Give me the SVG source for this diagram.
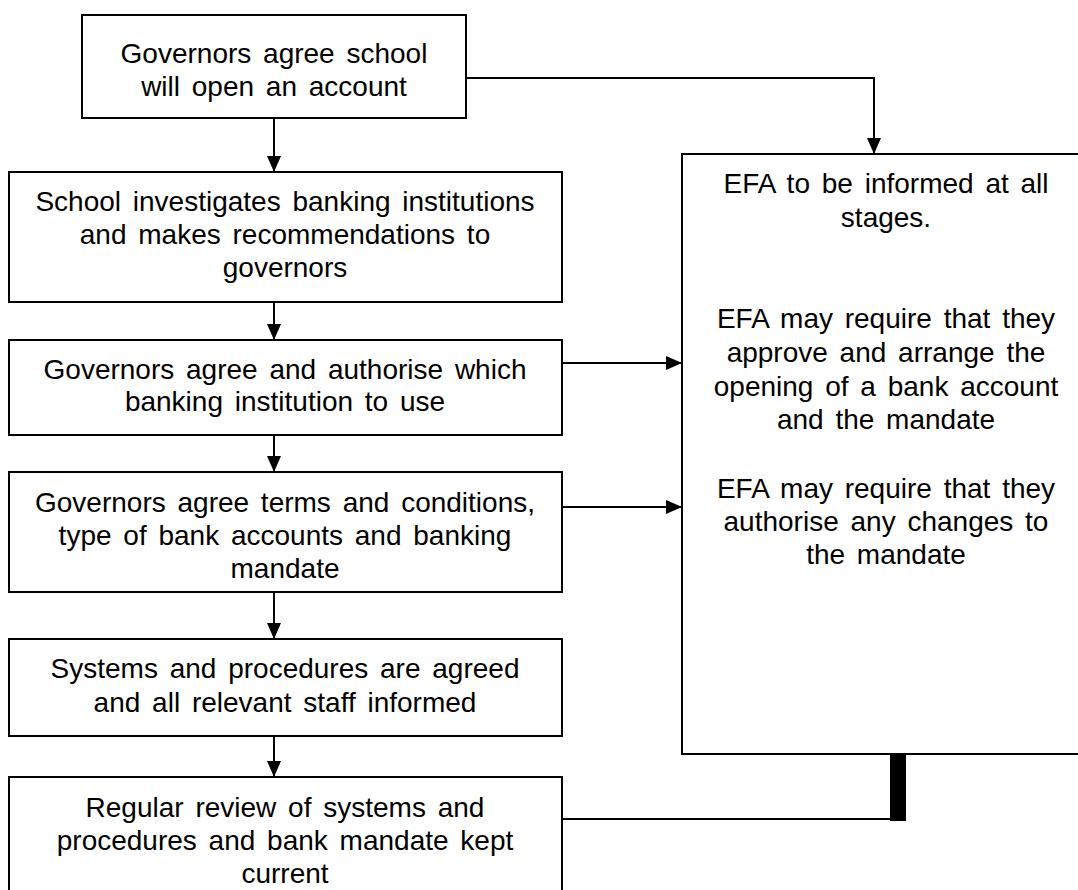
<svg xmlns="http://www.w3.org/2000/svg" width="1078" height="890" viewBox="0 0 1078 890">
<style>
.box{fill:#fff;stroke:#000;stroke-width:2}
.t{font-family:"Liberation Sans",Arial,sans-serif;font-size:28px;word-spacing:4px;fill:#000;text-anchor:middle}
.c{fill:none;stroke:#000;stroke-width:2}
</style>
<defs>
<marker id="ah" markerUnits="userSpaceOnUse" markerWidth="16" markerHeight="14" refX="16" refY="7" orient="auto">
<path d="M0,0 L16,7 L0,14 Z" fill="#000"/>
</marker>
</defs>
<rect width="1078" height="890" fill="#fff"/>
<g id="n1"><rect class="box" x="82" y="15" width="384" height="103"/>
<text class="t" x="274" y="63">Governors agree school</text>
<text class="t" x="274" y="96">will open an account</text></g>
<g id="n2"><rect class="box" x="9" y="172" width="553" height="130"/>
<text class="t" x="285" y="211">School investigates banking institutions</text>
<text class="t" x="285" y="244">and makes recommendations to</text>
<text class="t" x="285" y="277">governors</text></g>
<g id="n3"><rect class="box" x="9" y="340" width="553" height="95"/>
<text class="t" x="285" y="379">Governors agree and authorise which</text>
<text class="t" x="285" y="411">banking institution to use</text></g>
<g id="n4"><rect class="box" x="9" y="472" width="553" height="120"/>
<text class="t" x="285" y="512">Governors agree terms and conditions,</text>
<text class="t" x="285" y="545">type of bank accounts and banking</text>
<text class="t" x="285" y="578">mandate</text></g>
<g id="n5"><rect class="box" x="9" y="639" width="553" height="97"/>
<text class="t" x="285" y="678">Systems and procedures are agreed</text>
<text class="t" x="285" y="712">and all relevant staff informed</text></g>
<g id="n6"><rect class="box" x="9" y="777" width="553" height="120"/>
<text class="t" x="285" y="817">Regular review of systems and</text>
<text class="t" x="285" y="850">procedures and bank mandate kept</text>
<text class="t" x="285" y="883">current</text></g>
<g id="efa"><rect class="box" x="682" y="154" width="420" height="600"/>
<text class="t" x="886" y="193">EFA to be informed at all</text>
<text class="t" x="886" y="227">stages.</text>
<text class="t" x="886" y="328">EFA may require that they</text>
<text class="t" x="886" y="362">approve and arrange the</text>
<text class="t" x="886" y="396">opening of a bank account</text>
<text class="t" x="886" y="429">and the mandate</text>
<text class="t" x="886" y="498">EFA may require that they</text>
<text class="t" x="886" y="531">authorise any changes to</text>
<text class="t" x="886" y="564">the mandate</text></g>
<g id="connectors">
<path class="c" d="M274,118 V172" marker-end="url(#ah)"/>
<path class="c" d="M274,302 V340" marker-end="url(#ah)"/>
<path class="c" d="M274,435 V472" marker-end="url(#ah)"/>
<path class="c" d="M274,592 V639" marker-end="url(#ah)"/>
<path class="c" d="M274,736 V777" marker-end="url(#ah)"/>
<path class="c" d="M466,78 H874 V154" marker-end="url(#ah)"/>
<path class="c" d="M562,363 H682" marker-end="url(#ah)"/>
<path class="c" d="M562,507 H682" marker-end="url(#ah)"/>
<path class="c" d="M562,819 H890"/>
<rect x="890" y="754" width="16" height="67" fill="#000"/>
</g>
</svg>
